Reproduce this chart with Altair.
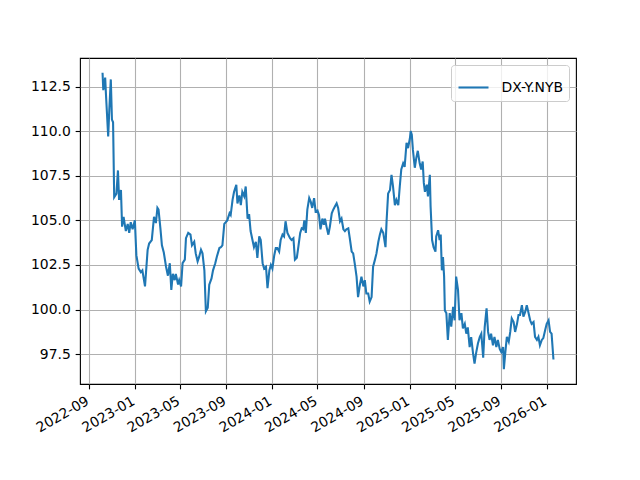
import altair as alt
import pandas as pd

# ---- data (DX-Y.NYB close) ----
dates_2022 = ["2022-10-07", "2022-10-09", "2022-10-14", "2022-10-16", "2022-10-22", "2022-10-25",
              "2022-10-29", "2022-11-01", "2022-11-04", "2022-11-07", "2022-11-13", "2022-11-17",
              "2022-11-20", "2022-11-25", "2022-11-28", "2022-12-02", "2022-12-08", "2022-12-13",
              "2022-12-17", "2022-12-21", "2022-12-26"]
values_2022 = [113.27, 112.3, 113.0, 112.1, 109.7, 111.2,
               112.9, 110.65, 110.5, 106.3, 106.5, 107.8,
               106.15, 106.7, 104.65, 105.2, 104.4, 104.8,
               104.3, 104.9, 104.5]

dates_2023 = ["2023-01-01", "2023-01-05", "2023-01-11", "2023-01-17", "2023-01-21", "2023-01-28",
              "2023-02-04", "2023-02-08", "2023-02-15", "2023-02-21", "2023-02-26", "2023-03-02",
              "2023-03-05", "2023-03-10", "2023-03-14", "2023-03-19", "2023-03-25", "2023-03-30",
              "2023-04-04", "2023-04-08", "2023-04-12", "2023-04-17", "2023-04-20", "2023-04-26",
              "2023-04-29", "2023-05-04", "2023-05-08", "2023-05-14", "2023-05-17", "2023-05-23",
              "2023-05-29", "2023-06-02", "2023-06-08", "2023-06-12", "2023-06-17", "2023-06-21",
              "2023-06-26", "2023-06-30", "2023-07-05", "2023-07-09", "2023-07-14", "2023-07-18",
              "2023-07-24", "2023-07-28", "2023-08-03", "2023-08-07", "2023-08-14", "2023-08-18",
              "2023-08-22", "2023-08-27", "2023-09-04", "2023-09-10", "2023-09-13", "2023-09-18",
              "2023-09-22", "2023-09-28", "2023-10-01", "2023-10-06", "2023-10-10", "2023-10-14",
              "2023-10-19", "2023-10-23", "2023-10-28", "2023-11-01", "2023-11-05", "2023-11-10",
              "2023-11-14", "2023-11-19", "2023-11-23", "2023-11-28", "2023-12-02", "2023-12-07",
              "2023-12-11", "2023-12-16", "2023-12-20", "2023-12-25", "2023-12-29"]
values_2023 = [105.0, 103.05, 102.3, 102.1, 102.2, 101.3,
               103.35, 103.7, 103.9, 105.2, 104.85, 105.7,
               105.6, 104.55, 103.6, 103.2, 102.4, 101.9,
               102.6, 101.1, 102.0, 101.65, 102.0, 101.4,
               101.65, 101.3, 102.6, 102.8, 104.0, 104.3,
               104.2, 103.6, 103.8, 103.15, 102.7, 102.95,
               103.35, 103.15, 102.2, 99.9, 100.1, 101.4,
               101.75, 102.2, 102.6, 102.95, 103.45, 103.5,
               103.6, 104.8, 105.0, 105.4, 105.3, 106.15,
               106.6, 107.0, 105.95, 106.4, 105.85, 106.6,
               106.35, 106.9, 105.1, 105.35, 104.4, 103.9,
               103.5, 103.8, 102.9, 104.1, 103.9, 102.6,
               102.3, 102.4, 101.2, 102.2, 102.5]

dates_2024 = ["2024-01-02", "2024-01-07", "2024-01-11", "2024-01-15", "2024-01-20", "2024-01-24",
              "2024-01-29", "2024-02-02", "2024-02-06", "2024-02-11", "2024-02-18", "2024-02-22",
              "2024-02-27", "2024-03-02", "2024-03-07", "2024-03-11", "2024-03-16", "2024-03-20",
              "2024-03-24", "2024-03-27", "2024-03-31", "2024-04-04", "2024-04-09", "2024-04-13",
              "2024-04-17", "2024-04-22", "2024-04-26", "2024-05-01", "2024-05-05", "2024-05-09",
              "2024-05-14", "2024-05-18", "2024-05-21", "2024-05-25", "2024-05-30", "2024-06-03",
              "2024-06-08", "2024-06-12", "2024-06-17", "2024-06-21", "2024-06-25", "2024-06-30",
              "2024-07-04", "2024-07-09", "2024-07-13", "2024-07-17", "2024-07-22", "2024-07-26",
              "2024-07-31", "2024-08-04", "2024-08-08", "2024-08-13", "2024-08-17", "2024-08-22",
              "2024-08-26", "2024-08-31", "2024-09-04", "2024-09-08", "2024-09-13", "2024-09-17",
              "2024-09-22", "2024-09-26", "2024-10-01", "2024-10-05", "2024-10-10", "2024-10-14",
              "2024-10-18", "2024-10-23", "2024-10-29", "2024-11-01", "2024-11-05", "2024-11-10",
              "2024-11-14", "2024-11-18", "2024-11-23", "2024-11-27", "2024-12-02", "2024-12-06",
              "2024-12-10", "2024-12-15", "2024-12-19", "2024-12-24", "2024-12-28"]
values_2024 = [102.3, 103.05, 103.45, 103.45, 103.25, 103.9,
               104.2, 104.1, 104.95, 104.3, 104.0, 103.9,
               104.0, 102.8, 102.9, 103.5, 104.3, 104.55,
               104.5, 105.0, 104.3, 105.6, 106.25, 106.05,
               105.7, 106.25, 105.5, 105.55, 105.3, 104.5,
               105.1, 104.75, 105.1, 104.65, 104.2, 104.65,
               105.4, 105.6, 105.8, 105.95, 105.7, 104.95,
               105.1, 104.5, 104.4, 104.5, 104.55, 104.0,
               103.25, 103.15, 102.6, 101.85, 100.7, 101.4,
               101.85, 101.3, 101.65, 100.9, 100.9, 100.45,
               100.7, 102.4, 102.8, 103.15, 103.8, 104.2,
               104.5, 104.3, 103.5, 105.0, 106.5, 106.7,
               107.55, 106.9, 105.85, 106.15, 105.85, 106.9,
               107.85, 108.2, 108.0, 109.35, 109.05]

dates_2025 = ["2025-01-02", "2025-01-04", "2025-01-07", "2025-01-10", "2025-01-15", "2025-01-19",
              "2025-01-23", "2025-01-28", "2025-02-01", "2025-02-05", "2025-02-08", "2025-02-11",
              "2025-02-16", "2025-02-19", "2025-02-24", "2025-02-26", "2025-03-02", "2025-03-06",
              "2025-03-11", "2025-03-13", "2025-03-18", "2025-03-22", "2025-03-25", "2025-03-28",
              "2025-03-31", "2025-04-03", "2025-04-05", "2025-04-09", "2025-04-13", "2025-04-18",
              "2025-04-22", "2025-04-27", "2025-05-01", "2025-05-05", "2025-05-10", "2025-05-14",
              "2025-05-19", "2025-05-23", "2025-05-28", "2025-06-01", "2025-06-05", "2025-06-10",
              "2025-06-14", "2025-06-19", "2025-06-23", "2025-06-27", "2025-07-02", "2025-07-07",
              "2025-07-11", "2025-07-16", "2025-07-20", "2025-07-25", "2025-07-29", "2025-08-02",
              "2025-08-06", "2025-08-11", "2025-08-15", "2025-08-20", "2025-08-24", "2025-08-29",
              "2025-09-02", "2025-09-07", "2025-09-09", "2025-09-13", "2025-09-17", "2025-09-22",
              "2025-09-26", "2025-09-30", "2025-10-05", "2025-10-09", "2025-10-14", "2025-10-18",
              "2025-10-22", "2025-10-27", "2025-10-31", "2025-11-05", "2025-11-09", "2025-11-14",
              "2025-11-18", "2025-11-22", "2025-11-27", "2025-12-01", "2025-12-06", "2025-12-10",
              "2025-12-14", "2025-12-19", "2025-12-23", "2025-12-28"]
values_2025 = [109.6, 110.0, 109.8, 108.95, 107.95, 108.5,
               108.9, 108.2, 107.85, 108.3, 107.1, 106.6,
               107.0, 106.35, 107.55, 105.8, 103.9, 103.5,
               103.25, 104.1, 104.45, 103.9, 104.2, 102.2,
               102.95, 101.85, 99.95, 99.8, 98.3, 99.8,
               99.05, 100.15, 99.4, 101.85, 101.1, 99.4,
               99.8, 98.95, 99.2, 98.65, 99.0, 97.9,
               98.45, 97.55, 96.97, 97.55, 98.1, 98.47,
               98.65, 97.3, 99.0, 100.07, 98.75, 98.3,
               98.65, 98.0, 98.47, 97.9, 98.3, 97.8,
               97.63, 97.9, 96.66, 97.63, 98.47, 98.2,
               98.75, 99.5, 99.3, 98.75, 99.2, 99.7,
               99.7, 100.25, 99.6, 99.88, 100.25, 99.78,
               99.4, 99.2, 99.3, 98.47, 98.3, 98.47,
               98.0, 98.3, 98.4, 98.85]

dates_2026 = ["2026-01-01", "2026-01-06", "2026-01-10", "2026-01-14", "2026-01-19"]
values_2026 = [99.2, 99.4, 98.75, 98.65, 97.2]

series_name = "DX-Y.NYB"
x_tick_months = [(2022, 9), (2023, 1), (2023, 5), (2023, 9), (2024, 1), (2024, 5),
                 (2024, 9), (2025, 1), (2025, 5), (2025, 9), (2026, 1)]
y_tick_values = [97.5, 100.0, 102.5, 105.0, 107.5, 110.0, 112.5]

# ---- build table ----
dates = dates_2022 + dates_2023 + dates_2024 + dates_2025 + dates_2026
values = values_2022 + values_2023 + values_2024 + values_2025 + values_2026
df = pd.DataFrame({"date": dates, "value": values, "series": series_name})

ts = pd.to_datetime(pd.Series(dates))
span = ts.max() - ts.min()
x0 = ts.min() - span * 0.05
x1 = ts.max() + span * 0.05
x_domain = [int(x0.value // 10**6), int(x1.value // 10**6)]
vmin, vmax = min(values), max(values)
vr = vmax - vmin
y_domain = [vmin - 0.05 * vr, vmax + 0.05 * vr]

FONT = "DejaVu Sans"
FS = 13.9
PT = 100 / 72  # matplotlib points -> px

chart = alt.Chart(df).mark_line(strokeWidth=1.5 * PT).encode(
    x=alt.X(
        "date:T",
        scale=alt.Scale(type="utc", domain=x_domain, nice=False),
        axis=alt.Axis(
            values=[alt.DateTime(year=y, month=m, date=1, utc=True) for y, m in x_tick_months],
            labelExpr="utcFormat(datum.value, '%Y-%m')", title=None,
            labelAngle=330, labelAlign="right", labelBaseline="top",
            labelOffset=-5, labelOverlap=False, labelFlush=False, labelBound=False,
        ),
    ),
    y=alt.Y(
        "value:Q",
        scale=alt.Scale(domain=y_domain, nice=False, zero=False),
        axis=alt.Axis(values=y_tick_values, format=".1f", title=None,
                      labelOverlap=False, labelFlush=False),
    ),
    color=alt.Color(
        "series:N",
        scale=alt.Scale(range=["#1f77b4"]),
        legend=alt.Legend(title=None, orient="top-right", offset=7),
    ),
).properties(
    width=496,
    height=326,
    autosize=alt.AutoSizeParams(type="none"),
    padding={"left": 72, "top": 50, "right": 56, "bottom": 88},
).configure_view(
    stroke="black", strokeWidth=0.8 * PT,
).configure_axis(
    domain=False, grid=True, gridColor="#b0b0b0", gridWidth=0.8 * PT,
    tickColor="black", tickWidth=0.8 * PT, tickSize=3.5 * PT, labelPadding=3.5 * PT,
    labelFont=FONT, labelFontSize=FS, labelColor="black",
).configure_legend(
    strokeColor="#cccccc", fillColor="rgba(255,255,255,0.8)", padding=6,
    cornerRadius=3, symbolType="stroke", symbolSize=900, symbolStrokeWidth=1.5 * PT,
    labelFont=FONT, labelFontSize=FS, labelColor="black", labelOffset=11.6,
)

chart.save("out.html", embed_options={"renderer": "svg", "actions": False})
